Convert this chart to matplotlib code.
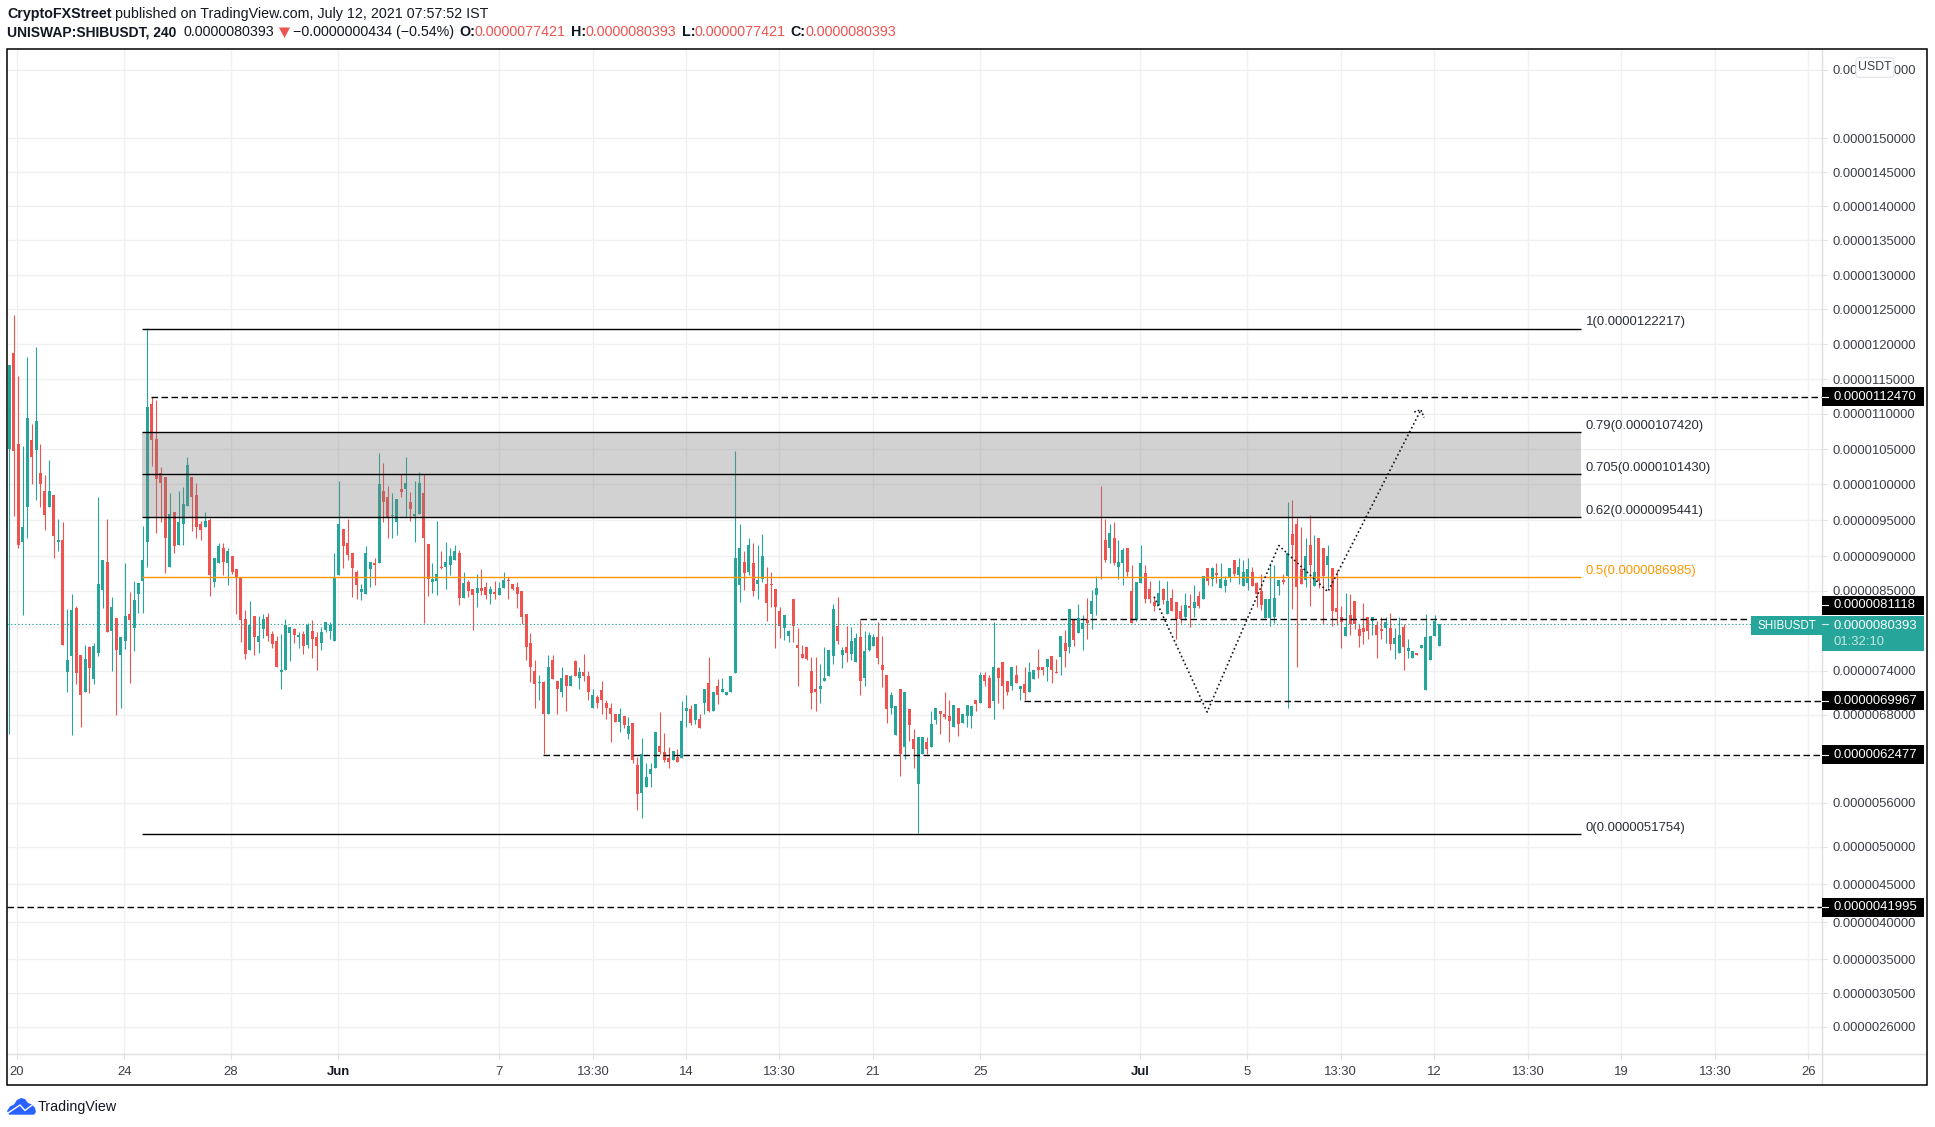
import numpy as np
import matplotlib
matplotlib.use('Agg')
import matplotlib.pyplot as plt
from matplotlib.lines import Line2D
from matplotlib.patches import Polygon, Rectangle, FancyBboxPatch
from matplotlib.transforms import Affine2D

plt.rcParams['font.family'] = ['Liberation Sans', 'DejaVu Sans']

# prices are in units of 0.0000001 USDT, one entry per 4h candle
highs = [
    117.0, 124.2, 115.5, 105.5, 118.2, 108.6, 119.6, 105.8, 101.3, 103.5, 98.5, 95.2, 94.8, 82.5, 84.6, 82.9,
    76.1, 77.5, 77.4, 77.8, 98.3, 89.5, 95.2, 84.2, 81.2, 78.6, 89.1, 84.9, 86.4, 86.1, 94.2, 122.3,
    112.5, 112.0, 102.5, 101.0, 98.8, 96.2, 99.0, 99.6, 103.9, 101.0, 100.2, 94.9, 96.2, 95.3, 89.8, 91.9,
    91.9, 91.2, 90.1, 88.1, 86.9, 82.3, 83.6, 81.5, 81.5, 81.8, 81.9, 79.4, 78.7, 79.0, 81.1, 80.0,
    79.8, 79.3, 79.4, 80.5, 80.9, 79.3, 80.0, 80.7, 80.7, 90.5, 100.5, 93.8, 95.2, 90.4, 88.0, 86.0,
    91.4, 89.2, 89.7, 104.5, 103.1, 99.8, 98.8, 98.0, 101.5, 103.9, 98.9, 100.5, 101.8, 101.5, 91.7, 89.0,
    94.9, 90.8, 92.0, 91.2, 91.5, 90.9, 87.8, 86.6, 85.3, 87.4, 88.1, 86.3, 85.7, 86.4, 86.3,
    87.7, 87.0, 86.0, 86.3, 85.0, 81.8, 79.1, 75.5, 73.5, 72.6, 76.1, 76.1, 72.6, 74.5, 73.4, 73.5,
    75.5, 74.5, 76.3, 74.0, 71.6, 70.7, 72.7, 70.0, 69.6, 68.2, 69.0, 67.8, 67.7, 66.9, 62.2, 64.8,
    61.3, 61.3, 65.6, 68.4, 65.5, 63.5, 63.0, 63.2, 69.9, 70.7, 69.3, 69.5, 68.2, 71.6, 75.9, 71.1,
    72.9, 73.0, 71.2, 73.3, 104.8, 94.5, 90.7, 92.5, 91.8, 91.5, 93.1, 88.5, 87.7, 85.3, 82.8, 81.6,
    79.5, 83.9, 79.8, 77.5, 77.2, 75.9, 75.9, 75.0, 77.2, 76.8, 83.2, 84.2, 77.2, 80.1, 80.0, 79.1,
    81.0, 79.4, 79.3, 79.0, 80.7, 78.7, 73.5, 71.2, 69.2, 71.5, 71.2, 68.8, 66.0, 64.9, 64.9, 64.9,
    68.6, 69.0, 68.5, 71.2, 70.0, 69.3, 69.0, 68.2, 69.3, 69.2, 70.1, 73.8, 73.8, 73.4, 80.7, 74.6,
    75.2, 72.6, 74.6, 74.8, 71.9, 74.6, 75.2, 74.1, 77.0, 74.5, 75.6, 76.0, 75.6, 78.7, 79.5, 82.5,
    80.9, 83.2, 81.6, 84.0, 85.2, 87.1, 99.8, 95.2, 94.5, 94.8, 92.3, 91.1, 91.2, 88.7, 86.3, 91.5,
    88.7, 86.4, 84.2, 86.6, 85.4, 86.4, 85.3, 83.5, 83.1, 84.7, 84.6, 85.9, 85.0, 87.1, 88.3, 88.5,
    89.0, 89.0, 87.1, 88.3, 89.4, 89.7, 89.5, 89.7, 88.5, 86.3, 87.4, 83.9, 89.1, 88.7, 86.6, 87.4,
    97.6, 97.8, 95.3, 94.0, 92.6, 95.7, 92.9, 92.6, 91.2, 91.6, 88.3, 88.0, 82.9, 84.7, 84.6, 83.6,
    80.4, 83.3, 81.4, 81.4, 80.8, 81.4, 81.4, 81.9, 79.8, 81.4, 80.4, 78.3, 76.7, 76.5, 77.5, 81.8,
    78.7, 81.6, 80.39,
]
opens = [
    105.0, 118.8, 105.8, 92.0, 96.8, 106.3, 104.9, 101.6, 99.0, 96.9, 98.5, 92.0, 92.2, 73.8, 76.0, 82.6,
    76.1, 71.1, 77.2, 72.9, 76.4, 85.2, 89.2, 79.4, 81.2, 76.1, 78.0, 81.8, 79.8, 84.6, 86.4, 92.0,
    111.5, 106.5, 101.6, 101.0, 88.5, 96.1, 91.6, 94.5, 97.0, 101.0, 98.5, 94.5, 94.0, 95.0, 86.3, 89.0,
    91.2, 89.1, 90.1, 88.1, 86.9, 81.1, 76.8, 81.5, 77.9, 79.7, 81.4, 79.0, 78.0, 73.8, 74.1, 79.1,
    79.7, 78.6, 79.0, 77.5, 79.4, 78.6, 77.8, 79.5, 79.4, 78.0, 87.3, 93.8, 91.9, 90.4, 87.8, 84.9,
    84.6, 88.1, 89.1, 89.0, 99.0, 98.3, 95.6, 94.8, 99.3, 99.3, 97.5, 95.6, 95.9, 98.8, 91.7, 86.3,
    86.4, 88.4, 88.5, 88.8, 89.4, 90.5, 84.0, 86.3, 85.3, 84.7, 85.4, 85.6, 84.6, 84.9, 84.5,
    85.4, 86.6, 86.0, 85.6, 85.0, 81.8, 77.8, 74.0, 72.3, 72.5, 68.2, 75.5, 72.6, 71.2, 73.4, 72.0,
    75.3, 73.0, 73.8, 73.3, 69.0, 70.5, 71.4, 69.7, 69.0, 68.2, 67.0, 67.8, 65.4, 66.9, 61.0, 57.3,
    58.1, 59.8, 60.7, 63.7, 62.9, 62.0, 61.7, 62.1, 62.0, 68.5, 68.8, 67.3, 67.5, 69.6, 72.3, 68.6,
    72.0, 71.2, 70.7, 71.2, 73.7, 85.9, 89.2, 87.7, 89.1, 86.0, 86.7, 86.0, 86.0, 85.3, 82.2, 79.8,
    78.7, 83.9, 77.5, 76.3, 77.2, 74.0, 71.5, 71.5, 72.6, 73.3, 76.0, 80.1, 76.1, 77.2, 76.3, 75.2,
    78.6, 73.0, 76.8, 77.4, 78.6, 74.8, 73.5, 68.9, 65.2, 71.5, 63.6, 68.8, 64.7, 58.5, 62.6, 64.3,
    63.5, 67.3, 68.5, 68.2, 67.8, 66.3, 69.0, 66.9, 67.8, 67.8, 70.1, 69.6, 73.5, 73.1, 69.9, 74.4,
    75.2, 72.6, 72.0, 73.5, 71.5, 72.2, 71.2, 72.9, 74.6, 74.5, 74.6, 76.0, 73.8, 75.9, 77.8, 77.2,
    80.9, 79.1, 79.7, 80.9, 81.8, 84.5, 91.6, 92.3, 91.2, 92.6, 88.4, 89.1, 91.2, 85.0, 80.9, 86.2,
    87.6, 85.3, 83.5, 83.1, 85.3, 81.8, 84.0, 83.5, 82.2, 81.4, 82.9, 82.6, 84.3, 83.9, 88.3, 86.7,
    87.6, 85.4, 85.7, 87.0, 89.4, 87.3, 85.7, 86.2, 87.8, 86.2, 85.0, 81.2, 81.2, 81.4, 85.7, 86.6,
    87.1, 93.1, 94.5, 88.1, 86.6, 91.5, 85.7, 92.6, 91.2, 88.8, 88.3, 82.6, 81.4, 78.7, 81.6, 83.6,
    79.7, 79.8, 81.4, 80.8, 80.2, 79.7, 79.8, 79.8, 77.6, 76.5, 80.0, 76.7, 75.7, 76.5, 77.1, 71.4,
    75.5, 78.7, 77.42,
]
closes = [
    117.0, 104.8, 91.6, 94.0, 109.5, 103.9, 109.0, 100.0, 95.8, 99.0, 92.8, 92.2, 77.5, 75.5, 82.3, 73.7,
    70.7, 75.6, 74.4, 77.4, 86.0, 89.5, 79.3, 82.8, 76.8, 78.6, 81.5, 80.9, 83.8, 86.1, 89.5, 111.0,
    106.3, 100.8, 100.2, 92.6, 95.9, 91.4, 94.8, 97.3, 102.8, 98.2, 94.0, 93.6, 94.9, 87.3, 89.8, 91.4,
    89.2, 90.7, 87.8, 86.9, 80.9, 76.3, 80.2, 78.6, 78.7, 81.1, 78.7, 77.6, 74.5, 74.1, 80.2, 80.0,
    78.9, 78.9, 77.4, 80.2, 78.3, 77.4, 79.3, 80.7, 80.2, 86.9, 94.5, 91.4, 90.2, 88.3, 85.9, 85.3,
    90.5, 89.2, 88.8, 100.0, 97.6, 95.5, 95.8, 97.9, 98.9, 100.2, 96.5, 95.9, 100.2, 92.5, 86.7, 86.8,
    87.4, 88.3, 89.2, 90.0, 90.8, 84.0, 86.1, 85.0, 84.5, 85.4, 85.0, 84.5, 85.3, 84.6, 85.4,
    86.6, 86.4, 85.3, 84.6, 81.4, 77.2, 74.6, 72.2, 72.5, 68.1, 74.6, 72.9, 71.5, 73.1, 72.0, 73.3,
    73.3, 73.8, 73.3, 71.2, 70.7, 69.6, 70.1, 69.0, 68.1, 67.0, 68.2, 66.6, 66.5, 61.7, 57.2, 62.5,
    59.4, 60.5, 65.6, 62.8, 61.7, 61.5, 63.0, 61.5, 67.1, 68.9, 66.9, 69.5, 66.2, 71.6, 68.6, 71.1,
    70.7, 71.6, 71.2, 73.3, 89.8, 91.2, 87.6, 91.5, 85.0, 86.6, 90.1, 83.3, 85.9, 82.8, 80.1, 81.6,
    79.4, 80.1, 77.1, 75.7, 75.6, 71.0, 71.1, 72.0, 73.1, 76.8, 82.5, 78.0, 76.8, 76.5, 78.0, 78.5,
    72.7, 76.7, 78.9, 78.6, 75.7, 74.2, 68.8, 70.7, 69.2, 62.5, 71.2, 66.6, 63.3, 64.9, 64.9, 63.2,
    66.7, 69.0, 68.1, 67.7, 67.1, 69.3, 66.7, 68.2, 69.3, 69.2, 69.5, 73.4, 72.6, 68.9, 74.5, 73.1,
    71.9, 71.2, 74.6, 72.3, 71.9, 71.0, 73.8, 74.1, 74.2, 74.1, 75.6, 74.1, 73.7, 78.7, 76.7, 82.5,
    78.2, 81.2, 80.5, 80.5, 83.6, 85.4, 91.5, 89.4, 93.2, 89.0, 89.2, 90.9, 87.7, 80.5, 86.3, 89.1,
    83.9, 83.9, 82.9, 84.7, 83.8, 83.6, 82.2, 81.1, 81.1, 83.1, 82.6, 83.5, 82.9, 87.1, 86.4, 88.3,
    87.3, 86.7, 86.6, 88.3, 87.4, 88.4, 87.7, 88.1, 85.7, 84.6, 83.1, 83.9, 83.9, 84.0, 86.6, 86.3,
    90.4, 91.6, 85.6, 86.0, 90.0, 88.7, 87.7, 86.4, 87.1, 90.1, 82.2, 82.1, 80.7, 80.0, 80.4, 80.4,
    78.7, 79.3, 79.4, 81.4, 78.9, 79.4, 80.7, 77.6, 78.5, 78.9, 77.2, 77.1, 76.7, 76.1, 77.5, 78.6,
    78.7, 80.8, 80.39,
]
lows = [
    65.4, 95.6, 91.2, 81.6, 92.6, 100.0, 97.8, 96.9, 93.6, 96.9, 89.7, 90.7, 77.5, 71.1, 65.2, 72.2,
    66.3, 71.1, 71.0, 72.2, 76.0, 82.6, 79.3, 74.0, 68.0, 69.0, 77.0, 72.3, 76.7, 81.9, 81.9, 88.5,
    102.6, 93.3, 94.8, 87.6, 88.5, 90.5, 91.6, 91.6, 97.0, 93.5, 92.5, 92.2, 94.0, 84.3, 85.6, 89.0,
    87.3, 85.9, 87.4, 81.8, 77.9, 75.6, 76.8, 76.1, 76.5, 78.5, 78.0, 77.1, 74.5, 71.6, 74.1, 75.3,
    77.8, 77.1, 76.3, 77.1, 75.7, 74.2, 76.8, 79.3, 78.3, 78.0, 87.3, 88.3, 89.5, 84.2, 83.9, 83.8,
    84.6, 85.6, 85.9, 89.0, 94.8, 92.5, 92.5, 92.9, 98.3, 95.4, 94.9, 92.0, 95.9, 80.5, 84.3, 84.7,
    84.5, 88.1, 85.3, 87.3, 89.4, 83.0, 84.0, 84.2, 79.5, 82.8, 84.5, 83.9, 83.2, 83.9, 84.5,
    85.4, 83.9, 85.2, 82.6, 80.4, 75.5, 72.5, 68.9, 70.1, 62.5, 68.2, 72.9, 68.2, 70.5, 68.5, 71.9,
    73.3, 71.6, 72.6, 70.1, 69.0, 69.0, 68.2, 67.4, 64.3, 67.0, 65.6, 66.2, 64.7, 61.3, 55.0, 54.0,
    58.1, 58.1, 60.7, 62.5, 61.4, 60.7, 61.7, 61.5, 62.0, 66.3, 66.6, 66.7, 66.2, 68.2, 68.4, 68.6,
    69.5, 71.1, 70.7, 71.2, 73.7, 83.5, 85.2, 87.3, 84.3, 83.9, 86.3, 80.8, 82.8, 77.1, 78.5, 78.2,
    77.9, 77.9, 72.0, 75.7, 75.5, 68.8, 68.5, 69.7, 72.6, 73.3, 74.9, 77.6, 74.4, 75.2, 75.5, 75.2,
    70.7, 71.9, 76.7, 77.4, 74.9, 71.8, 66.9, 68.2, 65.2, 59.6, 61.8, 64.4, 60.6, 51.9, 62.6, 62.5,
    63.5, 66.7, 65.4, 67.5, 64.3, 66.3, 65.1, 66.9, 66.3, 66.2, 68.6, 69.6, 71.9, 68.9, 67.5, 69.7,
    68.8, 70.7, 71.4, 72.3, 70.1, 70.0, 71.2, 72.9, 73.0, 73.5, 72.7, 72.3, 73.7, 73.5, 74.6, 76.5,
    77.4, 79.1, 76.8, 78.3, 79.7, 81.6, 86.7, 89.2, 89.1, 88.8, 86.7, 85.9, 87.1, 80.5, 80.8, 86.2,
    83.3, 83.3, 82.2, 83.1, 83.2, 81.8, 82.2, 78.3, 80.5, 80.9, 80.0, 81.4, 82.6, 83.9, 85.9, 85.7,
    86.2, 85.4, 84.9, 86.3, 87.1, 86.0, 85.7, 85.2, 85.7, 82.8, 82.3, 81.2, 80.1, 80.5, 84.5, 86.0,
    68.9, 82.5, 74.6, 86.0, 85.6, 82.9, 85.7, 85.4, 80.4, 85.4, 80.1, 80.2, 77.1, 78.7, 78.9, 79.7,
    77.2, 77.6, 78.3, 78.9, 75.7, 78.3, 77.8, 76.8, 75.6, 76.5, 74.2, 75.7, 75.7, 76.1, 77.1, 71.4,
    75.5, 78.7, 77.42,
]

price_ticks = [160, 150, 145, 140, 135, 130, 125, 120, 115, 110, 105, 100, 95, 90, 85, 80, 74, 68, 62, 56, 50, 45, 40, 35, 30.5, 26]
hidden_ticks = [80, 62]  # these two sit right behind the tags
time_ticks = [1.7, 25.8, 49.8, 73.8, 109.9, 131, 152, 172.8, 193.9, 218, 253.9, 277.9, 298.9, 319.9, 341, 361.8, 383, 403.9]
time_labels = ['20', '24', '28', 'Jun', '7', '13:30', '14', '13:30', '21', '25', 'Jul', '5', '13:30', '12', '13:30', '19', '13:30', '26']

fib_levels = [122.217, 107.420, 101.430, 95.441, 86.985, 51.754]
fib_labels = ['1(0.0000122217)', '0.79(0.0000107420)', '0.705(0.0000101430)', '0.62(0.0000095441)', '0.5(0.0000086985)', '0(0.0000051754)']
fib_start, fib_end = 29.9, 352.8

# dashed levels: price, first candle, last candle
level_prices = [112.470, 81.118, 69.967, 62.477, 41.995]
level_starts = [31.9, 191, 227.8, 119.9, -0.45]
level_ends = [407, 390.3, 407, 407, 407]

path_x = [257.0, 268.9, 285.0, 296.0, 316.9]
path_y = [84.2, 68.4, 91.5, 84.9, 110.6]
head_x = [315.4, 316.9, 317.6]
head_y = [110.3, 110.6, 109.5]

last_price = 80.393

UP = '#26a69a'
DOWN = '#ef5350'
INK = '#131722'
AXIS_TEXT = '#3c3f48'
GRID = '#f0f0f3'
AXIS_LINE = '#dedfe3'
FS = 9.45

W, H = 1935, 1127
L, R, T, B = 7.3, 1822.3, 49.3, 1054.3

fig = plt.figure(figsize=(W / 100, H / 100), dpi=100)
px = Affine2D().scale(1, -1).translate(0, H)  # image pixels, y down
ax = fig.add_axes([L / W, 1 - B / H, (R - L) / W, (B - T) / H])

# the chart's price axis is close to linear but not quite, so it is calibrated on its ticks
scale_prices = np.array([22.4, 26, 30.5, 35, 40, 45, 50, 56, 62, 68, 74, 80, 85, 90, 95, 100, 105, 110, 115, 120, 125, 130, 135, 140, 145, 150, 160, 163.04])
scale_rows = np.array([1054.3, 1027, 993.3, 959.3, 922.3, 884.3, 847, 803, 758, 715, 671, 626.7, 591, 556.3, 520.3, 484.3, 449.3, 414, 379.3, 344.3, 309.3, 275.3, 240.3, 206.3, 172.3, 138.3, 70, 49.3])

def to_axis(p):
    return np.interp(p, scale_prices, -scale_rows)

def from_axis(v):
    return np.interp(v, -scale_rows[::-1], scale_prices[::-1])

ax.set_yscale('function', functions=(to_axis, from_axis))
ax.set_ylim(22.4, 163.04)
ax.set_xlim(-0.45, 407)

bars = np.arange(len(closes))
o = np.array(opens)
c = np.array(closes)
colors = [UP if a >= b else DOWN for a, b in zip(c, o)]
ax.vlines(bars, lows, highs, colors=colors, linewidth=0.8, zorder=2)
ax.bar(bars, np.abs(c - o), bottom=np.minimum(o, c), width=0.68, color=colors, linewidth=0, zorder=2)

# fib box
ax.fill_between([fib_start, fib_end], fib_levels[3], fib_levels[1], color='#808080', alpha=0.35, linewidth=0, zorder=3)
for level, label in zip(fib_levels, fib_labels):
    col = '#ff9800' if label.startswith('0.5') else 'black'
    ax.hlines(level, fib_start, fib_end, colors=col, linewidth=1.0, zorder=4)
    tcol = '#ff9800' if label.startswith('0.5') else '#2a2e39'
    ax.annotate(label, xy=(fib_end, level), xytext=(5, 6.5), textcoords='offset pixels', fontsize=FS, color=tcol, va='center', ha='left', zorder=6)

for price, start, end in zip(level_prices, level_starts, level_ends):
    ax.hlines(price, start, end, colors='black', linewidth=1.0, linestyles=(0, (4.7, 2.5)), zorder=4)

ax.hlines(last_price, -0.45, 391, colors=UP, linewidth=0.8, linestyles=(0, (1.2, 2)), zorder=4)

# projected path
ax.plot(path_x, path_y, color=INK, linewidth=1.2, linestyle=(0, (1, 1.6)), zorder=5)
ax.plot(head_x, head_y, color=INK, linewidth=1.2, linestyle=(0, (1, 1.2)), zorder=5)

# axes dressing
for spine in ax.spines.values():
    spine.set_visible(False)
ax.set_axisbelow(True)
ax.grid(True, color=GRID, linewidth=1.0)
ax.yaxis.tick_right()
ax.set_yticks(price_ticks, ['' if p in hidden_ticks else f'{p / 1e7:.10f}' for p in price_ticks])
ax.minorticks_off()
ax.set_xticks(time_ticks, time_labels)
ax.tick_params(axis='y', length=3.8, width=0.8, color=AXIS_LINE, pad=3.8, labelsize=FS, labelcolor=AXIS_TEXT)
ax.tick_params(axis='x', length=3.6, width=0.8, color=AXIS_LINE, pad=4.6, labelsize=FS, labelcolor=AXIS_TEXT)
for tick_label in ax.get_xticklabels():
    if tick_label.get_text() in ('Jun', 'Jul'):
        tick_label.set_fontweight('bold')
        tick_label.set_color(INK)

fig.add_artist(Line2D([R, R], [T, 1085.3], transform=px, color=AXIS_LINE, linewidth=1.0, zorder=2))
fig.add_artist(Line2D([L, 1927], [B, B], transform=px, color=AXIS_LINE, linewidth=1.0, zorder=2))
fig.add_artist(Rectangle((L, T), 1927 - L, 1085.3 - T, transform=px, fill=False, edgecolor='black', linewidth=1.1, zorder=8))

# black level tags on the price axis, the 81118 tag is pushed up by the last price tag
tag_rows = [-to_axis(p) for p in level_prices]
tag_rows[1] -= 13.5
for price, row in zip(level_prices, tag_rows):
    fig.add_artist(Rectangle((R, row - 9.5), 102, 19, transform=px, facecolor='black', edgecolor='none', zorder=5))
    fig.add_artist(Line2D([R, R + 5.5], [row, row], transform=px, color='white', linewidth=0.8, zorder=6))
    fig.text(1833.3, row, f'{price / 1e7:.10f}', transform=px, color='white', fontsize=FS, va='center', ha='left', zorder=6)

# last price tag
last_row = -to_axis(last_price)
fig.add_artist(Rectangle((1751, 616), R - 1751, 18.7, transform=px, facecolor=UP, edgecolor='none', zorder=5))
fig.add_artist(Rectangle((R, 616), 102, 34.7, transform=px, facecolor=UP, edgecolor='none', zorder=5))
fig.add_artist(Line2D([R, R + 5.5], [last_row, last_row], transform=px, color='#cdeae7', linewidth=0.8, zorder=6))
fig.text(1757, 625.7, 'SHIBUSDT', transform=px, color='white', fontsize=8.4, va='center', ha='left', zorder=6)
fig.text(1833.3, 625.7, f'{last_price / 1e7:.10f}', transform=px, color='white', fontsize=FS, va='center', ha='left', zorder=6)
fig.text(1833.3, 642, '01:32:10', transform=px, color='#c5e6e2', fontsize=FS, va='center', ha='left', zorder=6)

# currency button
fig.add_artist(FancyBboxPatch((1858, 59.7), 34, 15.6, boxstyle='round,pad=2,rounding_size=3', transform=px, facecolor='white', edgecolor='#e0e3eb', linewidth=0.8, zorder=5))
fig.text(1875, 67.5, 'USDT', transform=px, color=AXIS_TEXT, fontsize=FS - 0.6, va='center', ha='center', zorder=6)

# header
fig.text(7, 14.3, 'CryptoFXStreet', transform=px, color=INK, fontsize=10.3, fontweight='bold', va='center')
fig.text(115, 14.3, 'published on TradingView.com, July 12, 2021 07:57:52 IST', transform=px, color=INK, fontsize=10.3, va='center')
fig.text(7, 32.3, 'UNISWAP:SHIBUSDT, 240', transform=px, color=INK, fontsize=10.0, fontweight='bold', va='center')
fig.text(183, 32.3, '0.0000080393', transform=px, color=INK, fontsize=10.3, va='center')
fig.add_artist(Polygon([(279, 27.5), (290, 27.5), (284.5, 38)], transform=px, facecolor=DOWN, edgecolor='none'))
fig.text(293, 32.3, '\u22120.0000000434 (\u22120.54%)', transform=px, color=INK, fontsize=10.3, va='center')
for key, key_x, value, value_x in [('O:', 459, '0.0000077421', 474.5), ('H:', 571, '0.0000080393', 585.5), ('L:', 682, '0.0000077421', 694.5), ('C:', 790.3, '0.0000080393', 805.5)]:
    fig.text(key_x, 32.3, key, transform=px, color=INK, fontsize=10.3, fontweight='bold', va='center')
    fig.text(value_x, 32.3, value, transform=px, color=DOWN, fontsize=10.3, va='center')

# footer logo
fig.add_artist(Polygon([(7, 1111), (10, 1106.5), (14, 1104.5), (17, 1100), (21, 1098), (25, 1099), (28, 1103), (32, 1104.5), (35, 1108), (36, 1112), (34, 1114.7), (9, 1114.7)], transform=px, facecolor='#2962ff', edgecolor='none'))
fig.add_artist(Line2D([8, 20, 25, 34], [1113, 1105, 1110.5, 1103.5], transform=px, color='white', linewidth=1.0))
fig.text(38, 1106.5, 'TradingView', transform=px, color=INK, fontsize=10.3, va='center')

fig.savefig('out.png', dpi=100)
